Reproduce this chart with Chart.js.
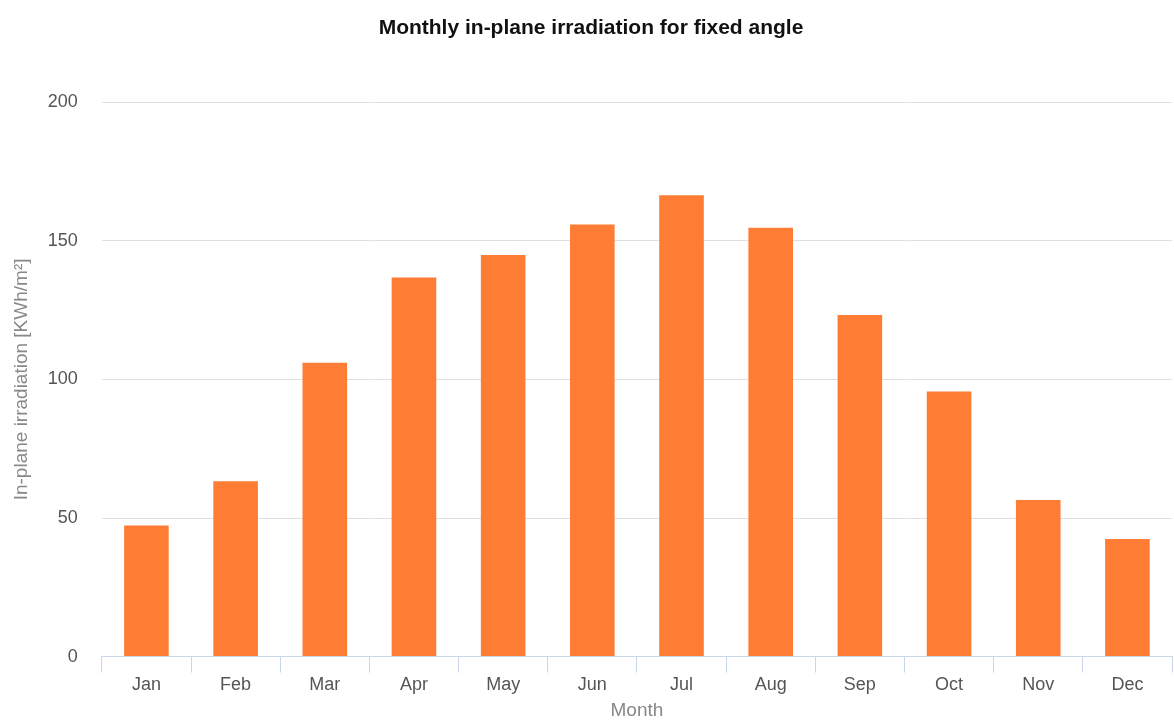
<!DOCTYPE html>
<html>
<head>
<meta charset="utf-8">
<script src="https://cdn.jsdelivr.net/npm/chart.js@4"></script>
<style>
    html, body { margin: 0; padding: 0; background: #fff; }
    #wrap { width: 1174px; height: 722px; }
</style>
</head>
<body>
<div id="wrap"><canvas id="irrChart" width="1174" height="722"></canvas></div>
<script>
const months = ['Jan', 'Feb', 'Mar', 'Apr', 'May', 'Jun', 'Jul', 'Aug', 'Sep', 'Oct', 'Nov', 'Dec'];
const irradiation = [47.3, 63.3, 106.0, 136.8, 144.9, 155.9, 166.4, 154.7, 123.2, 95.6, 56.5, 42.4];
const yTicks = [0, 50, 100, 150, 200];

const fontFamily = '"Liberation Sans", Arial, sans-serif';

const ctx = document.getElementById('irrChart').getContext('2d');

new Chart(ctx, {
    type: 'bar',
    data: {
        labels: months,
        datasets: [{
            label: 'In-plane irradiation',
            data: irradiation,
            backgroundColor: '#fe7c33',
            borderWidth: 0,
            categoryPercentage: 1.0,
            barPercentage: 0.5
        }]
    },
    options: {
        responsive: false,
        animation: false,
        layout: {
            padding: { top: 16, right: 2, left: 10, bottom: 0 }
        },
        plugins: {
            legend: { display: false },
            tooltip: { enabled: false },
            title: {
                display: true,
                text: 'Monthly in-plane irradiation for fixed angle',
                color: '#111',
                font: { family: fontFamily, size: 21, weight: 'bold' },
                padding: { top: 0, bottom: 61 }
            }
        },
        scales: {
            x: {
                grid: {
                    display: true,
                    drawOnChartArea: false,
                    offset: true,
                    color: '#ccd6eb',
                    tickLength: 16,
                    lineWidth: 1
                },
                border: { display: true, color: '#ccd6eb', width: 1 },
                ticks: {
                    color: '#555',
                    padding: 2,
                    font: { family: fontFamily, size: 18 }
                },
                title: {
                    display: true,
                    text: 'Month',
                    color: '#888',
                    padding: { top: 1, bottom: 0 },
                    font: { family: fontFamily, size: 19 }
                }
            },
            y: {
                min: 0,
                max: 200,
                afterBuildTicks: axis => {
                    axis.ticks = yTicks.map(v => ({ value: v }));
                },
                grid: {
                    color: '#e0e0e0',
                    lineWidth: 1,
                    drawTicks: false
                },
                border: { display: false },
                ticks: {
                    color: '#555',
                    padding: 24,
                    font: { family: fontFamily, size: 18 }
                },
                title: {
                    display: true,
                    text: 'In-plane irradiation [KWh/m²]',
                    color: '#888',
                    padding: { top: 0, bottom: -9 },
                    font: { family: fontFamily, size: 19 }
                }
            }
        }
    }
});
</script>
</body>
</html>
